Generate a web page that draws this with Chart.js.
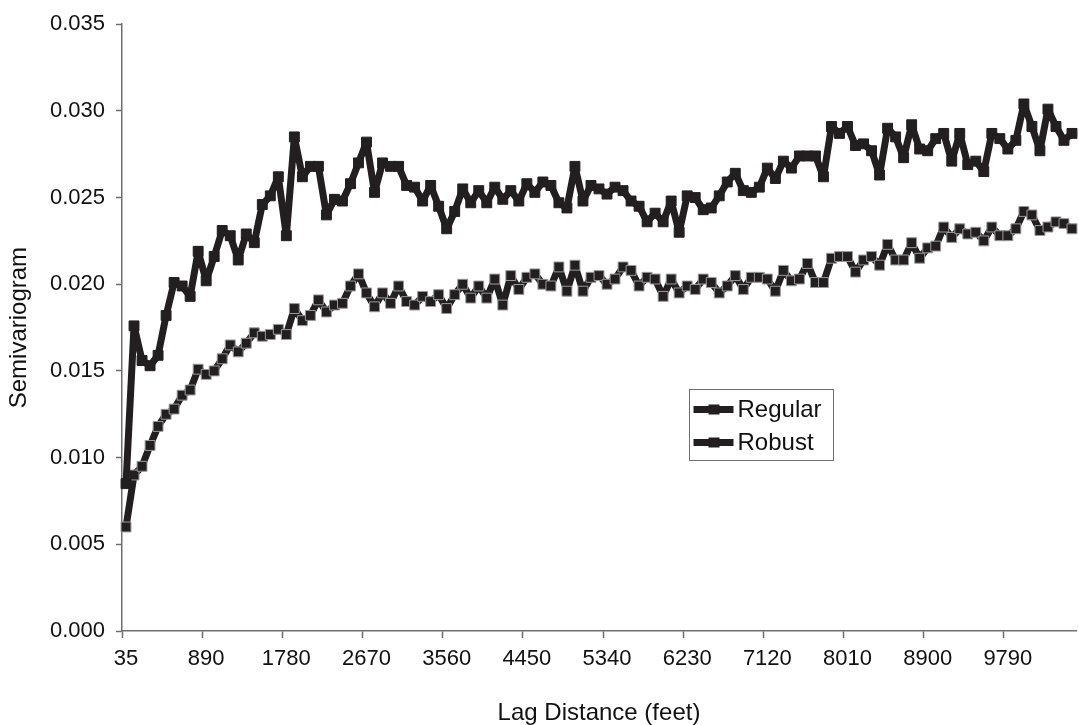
<!DOCTYPE html>
<html lang="en">
<head>
<meta charset="utf-8">
<title>Semivariogram</title>
<script src="https://cdn.jsdelivr.net/npm/chart.js@4.4.1/dist/chart.umd.min.js"></script>
<style>
    html, body { margin: 0; padding: 0; background: #fff; overflow: hidden; }
    /* 5px wider than the window: Chart.js keeps a small right gap, pushed off screen */
    #wrap { width: 1084px; height: 725px; position: relative; }
</style>
</head>
<body>
<div id="wrap"><canvas id="semiChart"></canvas></div>
<script>
// ========================================
// DADOS
// ========================================

// lag distance (feet) per bin
const lags = [35,
    89, 178, 267, 356, 445, 534, 623, 712, 801, 890,
    979, 1068, 1157, 1246, 1335, 1424, 1513, 1602, 1691, 1780,
    1869, 1958, 2047, 2136, 2225, 2314, 2403, 2492, 2581, 2670,
    2759, 2848, 2937, 3026, 3115, 3204, 3293, 3382, 3471, 3560,
    3649, 3738, 3827, 3916, 4005, 4094, 4183, 4272, 4361, 4450,
    4539, 4628, 4717, 4806, 4895, 4984, 5073, 5162, 5251, 5340,
    5429, 5518, 5607, 5696, 5785, 5874, 5963, 6052, 6141, 6230,
    6319, 6408, 6497, 6586, 6675, 6764, 6853, 6942, 7031, 7120,
    7209, 7298, 7387, 7476, 7565, 7654, 7743, 7832, 7921, 8010,
    8099, 8188, 8277, 8366, 8455, 8544, 8633, 8722, 8811, 8900,
    8989, 9078, 9167, 9256, 9345, 9434, 9523, 9612, 9701, 9790,
    9879, 9968, 10057, 10146, 10235, 10324, 10413, 10502];

// labels shown on the x axis
const tickLabels = ['35', '890', '1780', '2670', '3560', '4450', '5340', '6230', '7120', '8010', '8900', '9790'];

const regular = [
    0.0085, 0.0176, 0.0156, 0.0153, 0.0159, 0.0182, 0.0201, 0.0199, 0.0193, 0.0219,
    0.0202, 0.0216, 0.0231, 0.0228, 0.0214, 0.0229, 0.0224, 0.0246, 0.0251, 0.0262,
    0.0228, 0.0285, 0.0262, 0.0268, 0.0268, 0.0240, 0.0249, 0.0248, 0.0258, 0.0270,
    0.0282, 0.0253, 0.0270, 0.0268, 0.0268, 0.0257, 0.0256, 0.0248, 0.0257, 0.0245,
    0.0232, 0.0242, 0.0255, 0.0247, 0.0254, 0.0247, 0.0256, 0.0249, 0.0254, 0.0248,
    0.0258, 0.0253, 0.0259, 0.0257, 0.0247, 0.0244, 0.0268, 0.0248, 0.0257, 0.0255,
    0.0252, 0.0256, 0.0254, 0.0248, 0.0245, 0.0236, 0.0241, 0.0236, 0.0248, 0.0230,
    0.0251, 0.0250, 0.0243, 0.0244, 0.0251, 0.0259, 0.0264, 0.0254, 0.0253, 0.0256,
    0.0267, 0.0261, 0.0271, 0.0267, 0.0274, 0.0274, 0.0274, 0.0262, 0.0291, 0.0287,
    0.0291, 0.0280, 0.0281, 0.0277, 0.0263, 0.0290, 0.0285, 0.0273, 0.0292, 0.0278,
    0.0277, 0.0284, 0.0287, 0.0271, 0.0287, 0.0269, 0.0271, 0.0265, 0.0287, 0.0284,
    0.0278, 0.0283, 0.0304, 0.0291, 0.0277, 0.0301, 0.0291, 0.0283, 0.0287];

const robust = [
    0.0060, 0.0090, 0.0095, 0.0107, 0.0118, 0.0125, 0.0128, 0.0136, 0.0139, 0.0151,
    0.0148, 0.0150, 0.0157, 0.0165, 0.0161, 0.0166, 0.0172, 0.0170, 0.0171, 0.0174,
    0.0171, 0.0186, 0.0179, 0.0182, 0.0191, 0.0184, 0.0188, 0.0189, 0.0199, 0.0206,
    0.0195, 0.0187, 0.0195, 0.0189, 0.0199, 0.0190, 0.0188, 0.0193, 0.0190, 0.0194,
    0.0186, 0.0194, 0.0200, 0.0192, 0.0199, 0.0192, 0.0203, 0.0188, 0.0205, 0.0197,
    0.0204, 0.0206, 0.0200, 0.0199, 0.0210, 0.0196, 0.0211, 0.0196, 0.0204, 0.0205,
    0.0200, 0.0203, 0.0210, 0.0208, 0.0199, 0.0204, 0.0203, 0.0193, 0.0203, 0.0195,
    0.0199, 0.0197, 0.0203, 0.0201, 0.0195, 0.0199, 0.0205, 0.0197, 0.0204, 0.0204,
    0.0203, 0.0196, 0.0208, 0.0202, 0.0203, 0.0212, 0.0201, 0.0201, 0.0215, 0.0216,
    0.0216, 0.0207, 0.0214, 0.0216, 0.0211, 0.0223, 0.0214, 0.0214, 0.0224, 0.0215,
    0.0221, 0.0222, 0.0233, 0.0227, 0.0232, 0.0229, 0.0230, 0.0225, 0.0233, 0.0228,
    0.0228, 0.0232, 0.0242, 0.0240, 0.0231, 0.0233, 0.0236, 0.0235, 0.0232];

// ========================================
// ESTILO
// ========================================

const FONT = "'Liberation Sans', Arial, sans-serif";
const INK = '#231f20';
const AXIS = '#6e6e6e';

function serie(label, data, edge) {
    return {
        label: label,
        data: data,
        borderColor: INK,
        borderWidth: 7,
        borderJoinStyle: 'round',
        pointStyle: 'rect',
        pointRadius: 7,
        pointBackgroundColor: INK,
        pointBorderColor: edge,
        pointBorderWidth: 1,
        tension: 0,
        fill: false
    };
}

// legenda dentro da área do gráfico (como no Excel)
const insideLegend = {
    id: 'insideLegend',
    afterDraw(chart) {
        const ctx = chart.ctx;
        const box = { x: 689.5, y: 389.5, w: 144, h: 71 };
        ctx.save();
        ctx.fillStyle = '#fff';
        ctx.fillRect(box.x, box.y, box.w, box.h);
        ctx.strokeStyle = AXIS;
        ctx.lineWidth = 1;
        ctx.strokeRect(box.x, box.y, box.w, box.h);

        chart.data.datasets.forEach((ds, i) => {
            const cy = box.y + 20 + i * 33;
            ctx.strokeStyle = INK;
            ctx.lineWidth = 7;
            ctx.beginPath();
            ctx.moveTo(box.x + 4, cy);
            ctx.lineTo(box.x + 44, cy);
            ctx.stroke();
            ctx.fillStyle = INK;
            ctx.fillRect(box.x + 19, cy - 5, 11, 10);

            ctx.fillStyle = '#111';
            ctx.font = '24px ' + FONT;
            ctx.textBaseline = 'middle';
            ctx.textAlign = 'left';
            ctx.fillText(ds.label, box.x + 48, cy + 1);
        });
        ctx.restore();
    }
};

// ========================================
// GRÁFICO
// ========================================

document.addEventListener('DOMContentLoaded', function() {
    const ctx = document.getElementById('semiChart');

    new Chart(ctx, {
        type: 'line',
        data: {
            labels: lags,
            datasets: [
                serie('Regular', regular, INK),
                serie('Robust', robust, '#9a9a9a')
            ]
        },
        options: {
            responsive: true,
            maintainAspectRatio: false,
            animation: false,
            layout: { padding: { top: 19, right: 0, bottom: 0, left: 0 } },
            plugins: {
                legend: { display: false },
                tooltip: { enabled: false }
            },
            scales: {
                x: {
                    type: 'category',
                    offset: true,
                    afterFit(scale) { scale.height = 94; },
                    grid: {
                        offset: true,
                        drawOnChartArea: false,
                        drawTicks: true,
                        tickLength: 7,
                        tickWidth: 1.5,
                        tickColor: (c) => (c.index % 10 === 0 ? AXIS : 'rgba(0,0,0,0)')
                    },
                    border: { color: AXIS, width: 1.5 },
                    ticks: {
                        autoSkip: false,
                        maxRotation: 0,
                        padding: 8,
                        color: '#111',
                        font: { family: FONT, size: 22 },
                        callback: function(value) {
                            const lab = String(this.getLabelForValue(value));
                            return tickLabels.includes(lab) ? lab : '';
                        }
                    },
                    title: {
                        display: true,
                        text: 'Lag Distance (feet)',
                        color: '#111',
                        font: { family: FONT, size: 24, lineHeight: 1.0 },
                        padding: { top: 0, bottom: 0 }
                    }
                },
                y: {
                    min: 0,
                    max: 0.035,
                    afterFit(scale) { scale.width = 122; },
                    grid: {
                        drawOnChartArea: false,
                        drawTicks: true,
                        tickLength: 6,
                        tickWidth: 1.5,
                        tickColor: AXIS
                    },
                    border: { color: AXIS, width: 1.5 },
                    ticks: {
                        stepSize: 0.005,
                        padding: 11,
                        color: '#111',
                        font: { family: FONT, size: 22 },
                        callback: (v) => v.toFixed(3)
                    },
                    title: {
                        display: true,
                        text: 'Semivariogram',
                        color: '#111',
                        font: { family: FONT, size: 24 },
                        padding: { top: 5, bottom: 0 }
                    }
                }
            }
        },
        plugins: [insideLegend]
    });
});
</script>
</body>
</html>
